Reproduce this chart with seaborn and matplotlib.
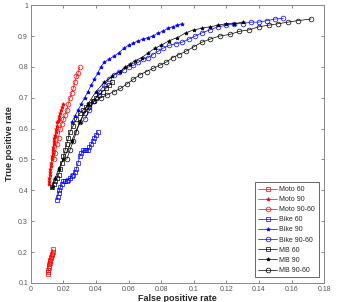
import matplotlib
matplotlib.use("Agg")
import matplotlib.pyplot as plt
import seaborn as sns

# ROC data
moto60_x = [0.0105, 0.0106, 0.0108, 0.0108, 0.011, 0.0111, 0.0113, 0.0115, 0.0117, 0.012, 0.0122, 0.0125, 0.0128, 0.013, 0.0133, 0.0135]
moto60_y = [0.13, 0.135, 0.14, 0.145, 0.15, 0.155, 0.16, 0.165, 0.17, 0.175, 0.18, 0.185, 0.19, 0.195, 0.2, 0.21]

moto90_x = [0.011, 0.0112, 0.0113, 0.0115, 0.0117, 0.012, 0.0122, 0.0125, 0.0127, 0.013, 0.0133, 0.0135, 0.0138, 0.014, 0.0143,
            0.0145, 0.0148, 0.015, 0.0153, 0.0157, 0.016, 0.0163, 0.0167, 0.017, 0.0175, 0.018, 0.0185, 0.019, 0.0195]
moto90_y = [0.42, 0.43, 0.44, 0.45, 0.46, 0.47, 0.48, 0.49, 0.5, 0.51, 0.52, 0.53, 0.54, 0.55, 0.56,
            0.57, 0.575, 0.58, 0.59, 0.6, 0.61, 0.62, 0.625, 0.63, 0.64, 0.65, 0.66, 0.67, 0.68]

moto9060_x = [0.014, 0.015, 0.016, 0.017, 0.018, 0.019, 0.02, 0.021, 0.022, 0.023, 0.024, 0.025, 0.026, 0.027, 0.028, 0.029, 0.03]
moto9060_y = [0.5, 0.52, 0.55, 0.57, 0.6, 0.615, 0.63, 0.645, 0.66, 0.68, 0.7, 0.715, 0.73, 0.75, 0.77, 0.78, 0.8]

bike60_x = [0.016, 0.0165, 0.017, 0.0175, 0.018, 0.019, 0.02, 0.021, 0.022, 0.023, 0.024, 0.025, 0.026, 0.027,
            0.028, 0.029, 0.03, 0.031, 0.032, 0.033, 0.034, 0.035, 0.036, 0.037, 0.038, 0.039, 0.04, 0.041]
bike60_y = [0.37, 0.38, 0.39, 0.4, 0.41, 0.42, 0.43, 0.43, 0.43, 0.435, 0.44, 0.445, 0.45, 0.46,
            0.47, 0.49, 0.51, 0.52, 0.53, 0.53, 0.53, 0.53, 0.54, 0.55, 0.56, 0.57, 0.58, 0.59]

bike90_x = [0.025, 0.027, 0.029, 0.031, 0.033, 0.035, 0.037, 0.039, 0.041, 0.043, 0.045, 0.048, 0.051, 0.054,
            0.057, 0.06, 0.063, 0.066, 0.069, 0.072, 0.075, 0.078, 0.081, 0.084, 0.087, 0.09, 0.093]
bike90_y = [0.62, 0.64, 0.66, 0.68, 0.7, 0.72, 0.74, 0.76, 0.78, 0.8, 0.815, 0.825, 0.835, 0.845,
            0.86, 0.87, 0.877, 0.885, 0.89, 0.895, 0.9, 0.91, 0.915, 0.925, 0.93, 0.935, 0.94]

bike9060_x = [0.033, 0.036, 0.039, 0.042, 0.045, 0.048, 0.051, 0.054, 0.057, 0.06, 0.063, 0.066, 0.069, 0.072, 0.075, 0.078, 0.081,
              0.085, 0.089, 0.093, 0.097, 0.101, 0.105, 0.11, 0.115, 0.12, 0.125, 0.13, 0.135, 0.14, 0.145, 0.15, 0.155]
bike9060_y = [0.63, 0.66, 0.69, 0.72, 0.74, 0.76, 0.775, 0.785, 0.79, 0.8, 0.805, 0.815, 0.825, 0.83, 0.84, 0.85, 0.86,
              0.87, 0.875, 0.88, 0.89, 0.9, 0.91, 0.92, 0.93, 0.935, 0.94, 0.94, 0.945, 0.945, 0.95, 0.955, 0.957]

mb60_x = [0.013, 0.014, 0.015, 0.016, 0.017, 0.018, 0.019, 0.02, 0.021, 0.022, 0.023, 0.024, 0.026, 0.028, 0.03,
          0.032, 0.034, 0.036, 0.038, 0.04, 0.042, 0.044, 0.046, 0.048, 0.05]
mb60_y = [0.41, 0.42, 0.43, 0.44, 0.45, 0.47, 0.49, 0.51, 0.53, 0.55, 0.57, 0.59, 0.61, 0.63, 0.65,
          0.66, 0.67, 0.68, 0.69, 0.7, 0.71, 0.72, 0.73, 0.74, 0.75]

mb90_x = [0.013, 0.015, 0.017, 0.02, 0.025, 0.03, 0.035, 0.04, 0.045, 0.05, 0.055, 0.058, 0.061, 0.064, 0.068, 0.072, 0.076,
          0.08, 0.085, 0.09, 0.095, 0.1, 0.105, 0.11, 0.115, 0.12, 0.125, 0.13]
mb90_y = [0.41, 0.44, 0.47, 0.5, 0.56, 0.62, 0.68, 0.72, 0.75, 0.77, 0.785, 0.8, 0.81, 0.82, 0.83, 0.845, 0.86,
          0.87, 0.885, 0.895, 0.91, 0.92, 0.925, 0.93, 0.935, 0.94, 0.94, 0.945]

mb9060_x = [0.022, 0.024, 0.026, 0.028, 0.03, 0.033, 0.036, 0.039, 0.043, 0.047, 0.051, 0.055, 0.059, 0.063, 0.067, 0.071, 0.075,
            0.079, 0.083, 0.087, 0.091, 0.095, 0.1, 0.105, 0.11, 0.116, 0.122, 0.128, 0.134, 0.14, 0.146, 0.152, 0.158, 0.164, 0.172]
mb9060_y = [0.5, 0.53, 0.56, 0.59, 0.62, 0.65, 0.67, 0.69, 0.7, 0.71, 0.72, 0.73, 0.745, 0.76, 0.775, 0.785, 0.795,
            0.805, 0.815, 0.83, 0.84, 0.85, 0.865, 0.88, 0.89, 0.9, 0.905, 0.915, 0.92, 0.93, 0.935, 0.94, 0.945, 0.95, 0.955]

series = [
    ("Moto 60", moto60_x, moto60_y, "#ff0000", "s"),
    ("Moto 90", moto90_x, moto90_y, "#ff0000", "*"),
    ("Moto 90-60", moto9060_x, moto9060_y, "#ff0000", "o"),
    ("Bike 60", bike60_x, bike60_y, "#0000ff", "s"),
    ("Bike 90", bike90_x, bike90_y, "#0000ff", "*"),
    ("Bike 90-60", bike9060_x, bike9060_y, "#0000ff", "o"),
    ("MB 60", mb60_x, mb60_y, "#000000", "s"),
    ("MB 90", mb90_x, mb90_y, "#000000", "*"),
    ("MB 90-60", mb9060_x, mb9060_y, "#000000", "o"),
]

sns.set_style("white")
plt.rcParams["font.family"] = ["Liberation Sans", "DejaVu Sans"]

fig = plt.figure(figsize=(3.39, 3.02), dpi=100)
ax = fig.add_axes([0.091, 0.063, 0.865, 0.92])

for name, xs, ys, col, mk in series:
    sns.lineplot(x=xs, y=ys, ax=ax, sort=False, color=col, marker=mk, linewidth=0.5,
                 markersize=3.4 if mk != "*" else 2.8, markerfacecolor="none" if mk != "*" else col,
                 markeredgecolor=col, markeredgewidth=0.5, label=name)

ax.set_xlim(0, 0.18)
ax.set_ylim(0.1, 1)
ax.set_xticks([0, 0.02, 0.04, 0.06, 0.08, 0.1, 0.12, 0.14, 0.16, 0.18])
ax.set_xticklabels(["0", "0.02", "0.04", "0.06", "0.08", "0.1", "0.12", "0.14", "0.16", "0.18"])
ax.set_yticks([0.1, 0.2, 0.3, 0.4, 0.5, 0.6, 0.7, 0.8, 0.9, 1])
ax.set_yticklabels(["0.1", "0.2", "0.3", "0.4", "0.5", "0.6", "0.7", "0.8", "0.9", "1"])
ax.tick_params(direction="in", length=2.5, width=0.5, labelsize=5, colors="#555555",
               top=True, right=True, bottom=True, left=True, pad=2)
for sp in ax.spines.values():
    sp.set_color("#888888")
    sp.set_linewidth(0.7)

ax.set_xlabel("False positive rate", fontsize=6.5, fontweight="bold", labelpad=1)
ax.set_ylabel("True positive rate", fontsize=6.5, fontweight="bold", labelpad=3)

leg = ax.legend(loc="lower right", fontsize=5, frameon=True, fancybox=False, borderaxespad=0.8,
                handlelength=2.6, labelspacing=0.45, borderpad=0.5, handletextpad=0.4)
leg.get_frame().set_edgecolor("#222222")
leg.get_frame().set_linewidth(0.6)

fig.savefig("out.png", dpi=100)
